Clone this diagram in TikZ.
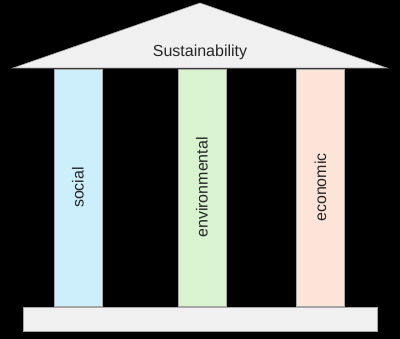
\documentclass[tikz,border=0pt]{standalone}
\usepackage{fontspec}
\setmainfont{Liberation Sans}
\definecolor{roofgray}{HTML}{F0F0F0}
\definecolor{socialc}{HTML}{CDEEFB}
\definecolor{envc}{HTML}{D9F2D0}
\definecolor{econc}{HTML}{FCE5D8}
\begin{document}
\begin{tikzpicture}[x=1pt,y=-1pt,
  pillar/.style={draw=gray!70, line width=0.6pt, minimum width=48pt, minimum height=237pt, inner sep=0pt},
  lbl/.style={font=\fontsize{16}{18}\selectfont, text=black!85}]
\useasboundingbox (0,0) rectangle (400,339);
\fill[black] (0,0) rectangle (400,339);
% roof
\draw[fill=roofgray, draw=gray!70, line width=0.6pt] (13,68) -- (200,3) -- (387,68) -- cycle;
\node[lbl] (title) at (200,52) {Sustainability};
% pillars
\node[pillar, fill=socialc] (social) at (78,187.5) {};
\node[pillar, fill=envc] (env) at (202,187.5) {};
\node[pillar, fill=econc] (econ) at (320.5,187.5) {};
\node[lbl, rotate=90] (socialt) at (social.center) {social};
\node[lbl, rotate=90] (envt) at (env.center) {environmental};
\node[lbl, rotate=90] (econt) at (econ.center) {economic};
% base
\draw[fill=roofgray, draw=gray!70, line width=0.6pt] (23.5,307) rectangle (377,331);
\end{tikzpicture}
\end{document}
